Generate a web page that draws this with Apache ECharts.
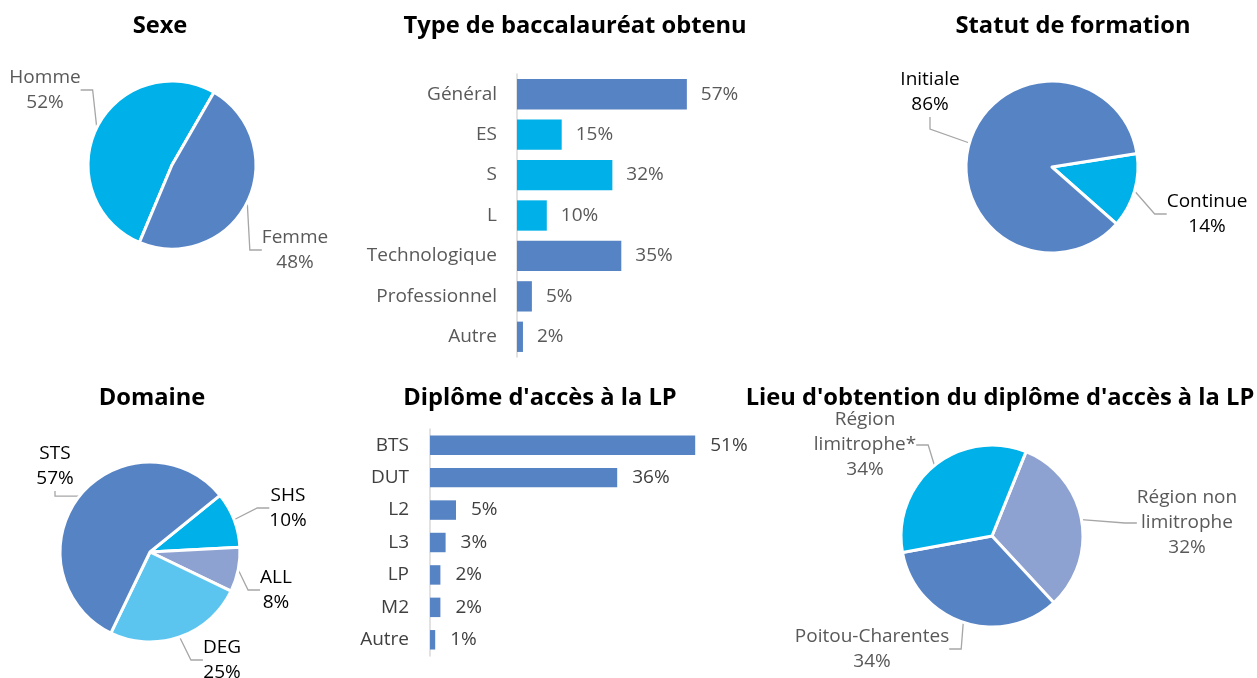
<!DOCTYPE html>
<html>
<head>
<meta charset="utf-8">
<script src="https://cdn.jsdelivr.net/npm/echarts@6/dist/echarts.min.js"></script>
<style>
  html, body { margin: 0; padding: 0; background: #fff; }
  #chart { width: 1257px; height: 678px; }
</style>
</head>
<body>
<div id="chart"></div>
<script>
var sexeNames = ['Homme', 'Femme'];
var sexeValues = [52, 48];

var bacNames = ['Général', 'ES', 'S', 'L', 'Technologique', 'Professionnel', 'Autre'];
var bacValues = [57, 15, 32, 10, 35, 5, 2];

var statutNames = ['Continue', 'Initiale'];
var statutValues = [14, 86];

var domaineNames = ['SHS', 'ALL', 'DEG', 'STS'];
var domaineValues = [10, 8, 25, 57];

var diplomeNames = ['BTS', 'DUT', 'L2', 'L3', 'LP', 'M2', 'Autre'];
var diplomeValues = [51, 36, 5, 3, 2, 2, 1];

var lieuNames = ['Région non limitrophe', 'Poitou-Charentes', 'Région limitrophe*'];
var lieuValues = [32, 34, 34];

var BLUE = '#5683c4', CYAN = '#00b0e8', LIGHT = '#5bc5f0', LAV = '#8ea2d2';
var FONT = '"Open Sans", "Noto Sans", sans-serif';

var myChart = echarts.init(document.getElementById('chart'));

function pieData(names, values, colors) {
    return names.map(function (n, i) {
        return { name: n, value: values[i], itemStyle: { color: colors[i] } };
    });
}

// labelSpots: where each slice's label block is centred (text placement only)
function pieSeries(center, radius, startAngle, data, textColor, labelSpots) {
    return {
        type: 'pie',
        center: center,
        radius: radius,
        startAngle: startAngle,
        clockwise: true,
        silent: true,
        data: data,
        itemStyle: { borderColor: '#fff', borderWidth: 3 },
        label: {
            formatter: function (p) {
                return p.name.replace(' limitrophe', '\nlimitrophe') + '\n' + p.value + '%';
            },
            fontFamily: FONT,
            fontSize: 19,
            lineHeight: 25,
            color: textColor,
            align: 'center',
            overflow: 'none'
        },
        labelLine: {
            length: 14,
            length2: 12,
            lineStyle: { color: '#a6a6a6', width: 1.3 }
        },
        labelLayout: function (p) {
            var s = labelSpots[p.dataIndex];
            return { x: s[0], y: s[1], align: 'center', verticalAlign: 'middle' };
        }
    };
}

var bacColors = [BLUE, CYAN, CYAN, CYAN, BLUE, BLUE, BLUE];

var option = {
    animation: false,
    textStyle: { fontFamily: FONT },
    title: [
        { text: 'Sexe', left: 155, top: 9 },
        { text: 'Type de baccalauréat obtenu', left: 570, top: 9 },
        { text: 'Statut de formation', left: 1068, top: 9 },
        { text: 'Domaine', left: 147, top: 381 },
        { text: "Diplôme d'accès à la LP", left: 535, top: 381 },
        { text: "Lieu d'obtention du diplôme d'accès à la LP", left: 995, top: 381 }
    ].map(function (t) {
        t.textAlign = 'center';
        t.textStyle = { fontFamily: FONT, fontSize: 23.7, fontWeight: 'bold', color: '#000' };
        return t;
    }),
    grid: [
        { left: 517, top: 74, width: 298, height: 283 },
        { left: 430, top: 429, width: 520, height: 227 }
    ],
    xAxis: [
        { gridIndex: 0, type: 'value', min: 0, max: 100, show: false },
        { gridIndex: 1, type: 'value', min: 0, max: 100, show: false }
    ],
    yAxis: [
        {
            gridIndex: 0, type: 'category', inverse: true, data: bacNames,
            axisLine: { lineStyle: { color: '#d9d9d9', width: 1.5 } },
            axisTick: { show: false },
            axisLabel: { color: '#595959', fontSize: 19, margin: 20, fontFamily: FONT }
        },
        {
            gridIndex: 1, type: 'category', inverse: true, data: diplomeNames,
            axisLine: { lineStyle: { color: '#d9d9d9', width: 1.5 } },
            axisTick: { show: false },
            axisLabel: { color: '#404040', fontSize: 19, margin: 21, fontFamily: FONT }
        }
    ],
    series: [
        pieSeries([172, 165], 84, 247.2, pieData(sexeNames, sexeValues, [CYAN, BLUE]), '#595959',
                  [[45, 90], [295, 250]]),
        {
            type: 'bar', xAxisIndex: 0, yAxisIndex: 0, silent: true,
            barCategoryGap: '25%',
            data: bacValues.map(function (v, i) { return { value: v, itemStyle: { color: bacColors[i] } }; }),
            label: { show: true, position: 'right', distance: 14, formatter: '{c}%',
                     color: '#595959', fontSize: 19, fontFamily: FONT }
        },
        pieSeries([1052, 167], 86, 9, pieData(statutNames, statutValues, [CYAN, BLUE]), '#000',
                  [[1207, 214], [930, 92]]),
        pieSeries([150, 552], 90, 39, pieData(domaineNames, domaineValues, [CYAN, LAV, LIGHT, BLUE]), '#000',
                  [[288, 508], [276, 590], [222, 660], [55, 466]]),
        {
            type: 'bar', xAxisIndex: 1, yAxisIndex: 1, silent: true,
            barCategoryGap: '40%',
            itemStyle: { color: BLUE },
            data: diplomeValues,
            label: { show: true, position: 'right', distance: 15, formatter: '{c}%',
                     color: '#404040', fontSize: 19, fontFamily: FONT }
        },
        pieSeries([992, 536], 91, 68, pieData(lieuNames, lieuValues, [LAV, BLUE, CYAN]), '#595959',
                  [[1187, 523], [872, 649], [865, 445]])
    ]
};

myChart.setOption(option);
window.onresize = function () {
    myChart.resize();
};
</script>
</body>
</html>
